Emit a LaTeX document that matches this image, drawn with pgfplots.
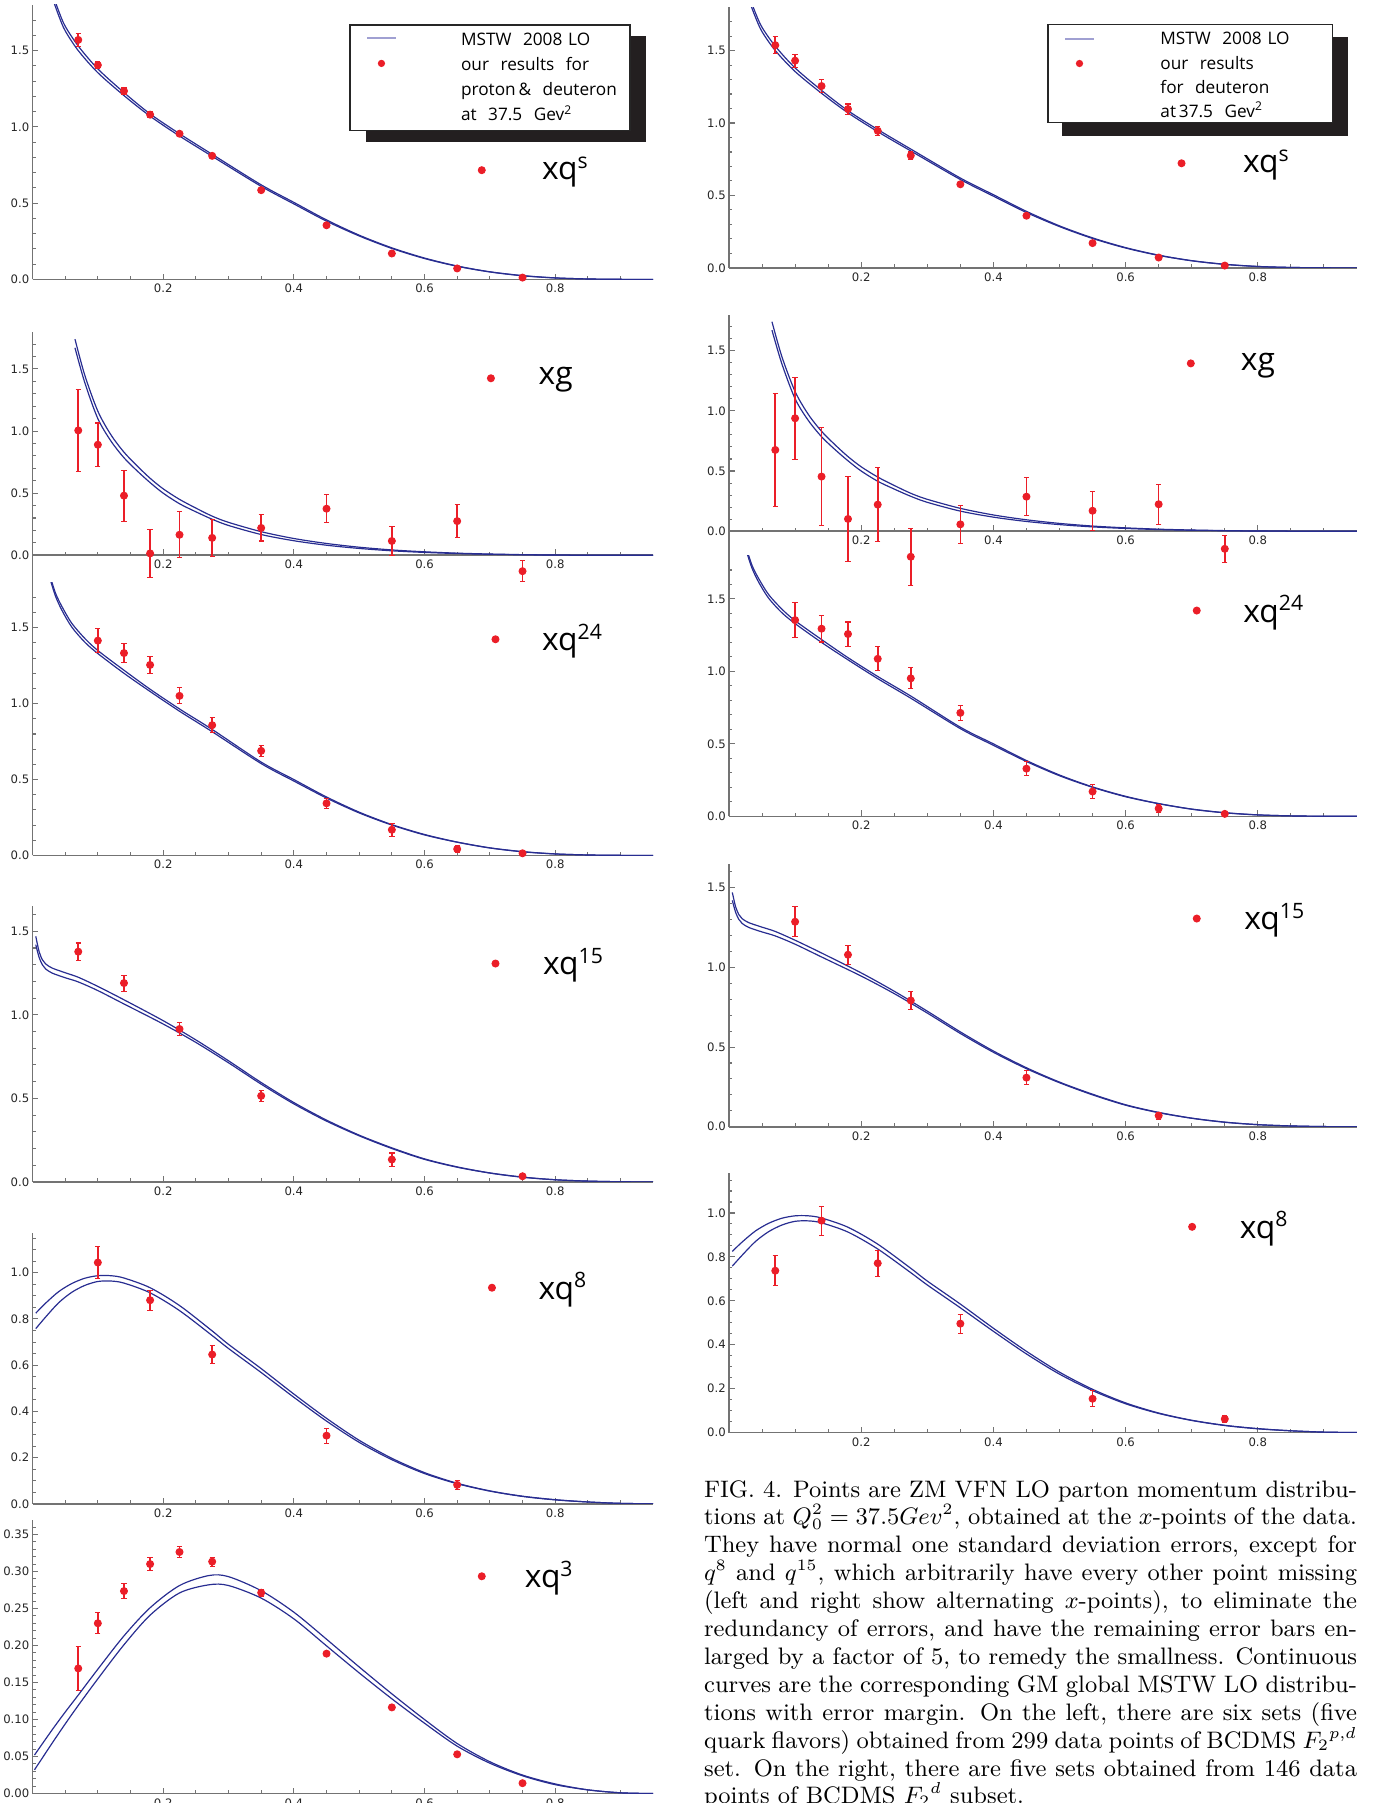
\documentclass[border=0pt]{standalone}
\usepackage{pgfplots}
\pgfplotsset{compat=1.18}
\usepackage{pgfplotstable}
\usepackage{fontspec}
\newfontfamily\pfont{Open Sans}
\newfontfamily\tfont{DejaVu Sans}
\newcommand\tickf{\tfont\fontsize{4.4}{5}\selectfont}
\newcommand\labf{\pfont\fontsize{12}{14}\selectfont}
\newcommand\legf{\pfont\fontsize{6.5}{7.5}\selectfont}
\definecolor{cb}{RGB}{40,45,145}
\definecolor{cr}{RGB}{235,30,40}
\definecolor{cl}{RGB}{160,160,210}
\definecolor{csh}{RGB}{35,31,32}

% ---------- MSTW curves: x, upper, lower ----------
\pgfplotstableread{
x u l
0.03 1.88 1.85
0.04 1.76 1.73
0.05 1.66 1.63
0.07 1.53 1.50
0.10 1.38 1.355
0.14 1.225 1.205
0.18 1.085 1.07
0.225 0.955 0.94
0.275 0.82 0.807
0.35 0.62 0.61
0.40 0.505 0.495
0.45 0.39 0.382
0.50 0.29 0.285
0.55 0.207 0.203
0.60 0.14 0.137
0.65 0.088 0.086
0.70 0.05 0.049
0.75 0.025 0.024
0.80 0.01 0.0095
0.85 0.003 0.003
0.90 0.0005 0.0005
0.95 0 0
}\Ts
\pgfplotstableread{
x u l
0.065 1.74 1.67
0.08 1.45 1.39
0.10 1.16 1.10
0.12 0.97 0.92
0.14 0.83 0.785
0.16 0.72 0.68
0.18 0.62 0.585
0.20 0.535 0.50
0.225 0.45 0.415
0.25 0.38 0.35
0.275 0.315 0.29
0.30 0.265 0.24
0.35 0.19 0.167
0.40 0.135 0.117
0.45 0.095 0.081
0.50 0.065 0.055
0.55 0.043 0.036
0.60 0.028 0.023
0.65 0.017 0.014
0.70 0.01 0.008
0.75 0.005 0.004
0.80 0.002 0.0015
0.85 0.001 0.0005
0.90 0 0
0.95 0 0
}\Tg
\pgfplotstableread{
x u l
0.027 1.84 1.82
0.035 1.73 1.71
0.045 1.64 1.615
0.06 1.53 1.505
0.08 1.43 1.405
0.10 1.35 1.33
0.14 1.22 1.20
0.18 1.095 1.08
0.225 0.965 0.95
0.275 0.83 0.815
0.35 0.615 0.605
0.40 0.5 0.49
0.45 0.385 0.378
0.50 0.285 0.28
0.55 0.203 0.2
0.60 0.138 0.135
0.65 0.088 0.087
0.70 0.05 0.049
0.75 0.025 0.024
0.80 0.01 0.0095
0.85 0.003 0.003
0.90 0.0005 0.0005
0.95 0 0
}\Tt
\pgfplotstableread{
x u l
0.005 1.47 1.42
0.01 1.38 1.345
0.015 1.33 1.30
0.02 1.305 1.275
0.03 1.28 1.25
0.05 1.252 1.222
0.07 1.225 1.197
0.10 1.17 1.145
0.14 1.09 1.065
0.20 0.965 0.945
0.25 0.85 0.835
0.30 0.725 0.713
0.35 0.595 0.585
0.40 0.475 0.467
0.45 0.37 0.364
0.50 0.28 0.276
0.55 0.204 0.2
0.60 0.138 0.135
0.65 0.09 0.088
0.70 0.054 0.053
0.75 0.029 0.028
0.80 0.013 0.013
0.85 0.005 0.005
0.90 0.001 0.001
0.95 0 0
}\Tf
\pgfplotstableread{
x u l
0.005 0.825 0.758
0.02 0.868 0.808
0.04 0.918 0.870
0.06 0.953 0.915
0.08 0.976 0.945
0.10 0.987 0.962
0.12 0.987 0.964
0.14 0.977 0.955
0.18 0.935 0.913
0.225 0.858 0.836
0.275 0.748 0.728
0.30 0.69 0.672
0.35 0.585 0.568
0.40 0.475 0.461
0.45 0.37 0.358
0.50 0.275 0.266
0.55 0.197 0.191
0.60 0.135 0.131
0.65 0.089 0.087
0.70 0.056 0.055
0.75 0.033 0.032
0.80 0.018 0.017
0.85 0.008 0.008
0.90 0.002 0.002
0.95 0 0
}\Te
\pgfplotstableread{
x u l
0.003 0.052 0.032
0.03 0.086 0.068
0.05 0.11 0.094
0.07 0.133 0.119
0.10 0.168 0.155
0.14 0.213 0.201
0.18 0.251 0.241
0.225 0.281 0.271
0.27 0.2945 0.282
0.30 0.293 0.281
0.35 0.274 0.264
0.40 0.245 0.236
0.45 0.2085 0.1995
0.50 0.171 0.163
0.55 0.1347 0.128
0.60 0.1 0.095
0.65 0.0676 0.064
0.70 0.043 0.041
0.75 0.025 0.024
0.80 0.013 0.012
0.85 0.005 0.005
0.90 0.001 0.001
0.95 0 0
}\Tc

% ---------- our results: x, value, error ----------
\pgfplotstableread{
x y e
0.07 1.57 0.045
0.10 1.405 0.025
0.14 1.235 0.022
0.18 1.08 0.018
0.225 0.955 0.015
0.275 0.81 0.012
0.35 0.585 0.008
0.45 0.355 0.007
0.55 0.17 0.005
0.65 0.072 0.005
0.75 0.012 0.004
}\DLs
\pgfplotstableread{
x y e
0.07 1.537 0.06
0.10 1.43 0.045
0.14 1.255 0.042
0.18 1.096 0.035
0.225 0.946 0.03
0.275 0.775 0.025
0.35 0.577 0.015
0.45 0.36 0.008
0.55 0.171 0.006
0.65 0.0715 0.006
0.75 0.016 0.006
}\DRs
\pgfplotstableread{
x y e
0.07 1.005 0.33
0.10 0.89 0.175
0.14 0.48 0.205
0.18 0.015 0.195
0.225 0.165 0.185
0.275 0.14 0.147
0.35 0.22 0.105
0.45 0.375 0.114
0.55 0.115 0.12
0.65 0.275 0.134
0.75 -0.128 0.085
}\DLg
\pgfplotstableread{
x y e
0.07 0.675 0.47
0.10 0.938 0.34
0.14 0.454 0.41
0.18 0.102 0.355
0.225 0.221 0.31
0.275 -0.212 0.235
0.35 0.057 0.157
0.45 0.287 0.158
0.55 0.17 0.163
0.65 0.224 0.168
0.75 -0.146 0.11
}\DRg
\pgfplotstableread{
x y e
0.10 1.415 0.08
0.14 1.333 0.065
0.18 1.255 0.058
0.225 1.051 0.053
0.275 0.858 0.05
0.35 0.689 0.035
0.45 0.343 0.033
0.55 0.169 0.044
0.65 0.042 0.022
0.75 0.014 0.008
}\DLt
\pgfplotstableread{
x y e
0.10 1.354 0.119
0.14 1.295 0.092
0.18 1.258 0.083
0.225 1.087 0.082
0.275 0.952 0.072
0.35 0.714 0.053
0.45 0.329 0.05
0.55 0.171 0.048
0.65 0.054 0.025
0.75 0.017 0.008
}\DRt
\pgfplotstableread{
x y e
0.07 1.378 0.052
0.14 1.19 0.048
0.225 0.915 0.04
0.35 0.515 0.033
0.55 0.134 0.039
0.75 0.034 0.008
}\DLf
\pgfplotstableread{
x y e
0.10 1.286 0.095
0.18 1.079 0.06
0.275 0.792 0.055
0.45 0.308 0.045
0.65 0.07 0.022
}\DRf
\pgfplotstableread{
x y e
0.10 1.044 0.068
0.18 0.881 0.043
0.275 0.646 0.038
0.45 0.295 0.032
0.65 0.082 0.02
}\DLe
\pgfplotstableread{
x y e
0.07 0.737 0.068
0.14 0.965 0.066
0.225 0.771 0.059
0.35 0.496 0.043
0.55 0.154 0.037
0.75 0.062 0.016
}\DRe
\pgfplotstableread{
x y e
0.07 0.169 0.03
0.10 0.23 0.014
0.14 0.2735 0.0105
0.18 0.31 0.0085
0.225 0.3263 0.007
0.275 0.3133 0.006
0.35 0.2713 0.0045
0.45 0.189 0.003
0.55 0.1164 0.0025
0.65 0.053 0.002
0.75 0.014 0.002
}\DLc

\pgfplotsset{
  pnl/.style={scale only axis, anchor=south west, xmin=0, xmax=0.95,
    axis y line=left, axis x line=bottom,
    axis line style={black!55, line width=0.6pt, -},
    tick align=inside, major tick length=2.2pt, minor tick length=1.3pt,
    tick style={black!55, line width=0.4pt},
    xtick={0.2,0.4,0.6,0.8},
    minor xtick={0.05,0.1,0.15,0.25,0.3,0.35,0.45,0.5,0.55,0.65,0.7,0.75,0.85,0.9},
    tick label style={font=\tickf, text=black!85},
    x tick label style={yshift=1.7pt},
    y tick label style={xshift=2.3pt},
    /pgf/number format/assume math mode=true,
    xticklabel style={/pgf/number format/.cd, fixed, fixed zerofill, precision=1},
    yticklabel style={/pgf/number format/.cd, fixed, fixed zerofill, precision=1},
    hide obscured x ticks=false, hide obscured y ticks=false,
    legend image code/.code={\fill[cr] (0pt,0pt) circle (1.3pt);},
  },
  yA/.style={ytick={0,0.5,1,1.5},
    minor ytick={0.1,0.2,0.3,0.4,0.6,0.7,0.8,0.9,1.1,1.2,1.3,1.4,1.6,1.7}},
  yE/.style={ytick={0,0.2,0.4,0.6,0.8,1.0},
    minor ytick={0.05,0.1,0.15,0.25,0.3,0.35,0.45,0.5,0.55,0.65,0.7,0.75,0.85,0.9,0.95,1.05,1.1,1.15}},
  crv/.style={cb, line width=0.45pt, smooth, no markers, forget plot},
  dat/.style={only marks, mark=*, mark size=1.3pt, cr,
    error bars/.cd, y dir=both, y explicit,
    error bar style={cr, line width=0.6pt},
    error mark options={rotate=90, cr, mark size=1pt, line width=0.4pt}},
  lab/.style n args={3}{legend style={at={(axis cs:#1,#2)}, anchor=west, xshift=-1.3pt,
    draw=none, fill=none, inner sep=0pt, font=\labf, nodes={inner sep=0pt},
    /tikz/every odd column/.append style={column sep=#3}}},
  lglineL/.style={cl, line width=0.7pt,
    legend image code/.code={\path (0pt,0pt); \draw[##1] (5.1pt,0.6pt) -- (16pt,0.6pt);}},
  lgdotL/.style={cr,
    legend image code/.code={\path (0pt,0pt) (16pt,0pt); \fill[cr] (10.5pt,0.6pt) circle (1.1pt);}},
  lglineR/.style={cl, line width=0.7pt,
    legend image code/.code={\path (0pt,0pt); \draw[##1] (5.1pt,-0.7pt) -- (16pt,-0.7pt);}},
  lgdotR/.style={cr,
    legend image code/.code={\path (0pt,0pt) (16pt,0pt); \fill[cr] (10.5pt,-0.7pt) circle (1.1pt);}},
  lgnone/.style={legend image code/.code={\path (0pt,0pt) (16pt,0pt);}},
  hid/.style={anchor=south west, scale only axis, xmin=0, xmax=0.95, ymin=0, ymax=1.8, hide axis},
  boxL/.style={legend style={at={(axis cs:0.485,1.673)}, anchor=north west, line width=0.5pt,
    font=\legf, inner xsep=1pt, inner ysep=3.4pt,
    nodes={inner sep=0pt, text width=62.8pt, align=left, text height=4.3pt, text depth=0.2pt},
    row sep=5.0pt, /tikz/every odd column/.append style={column sep=24.2pt}}},
  boxR/.style={legend style={at={(axis cs:0.4817,1.683)}, anchor=north west, line width=0.5pt,
    font=\legf, inner xsep=1pt, inner ysep=2.05pt,
    nodes={inner sep=0pt, text width=64pt, align=left, text height=5.6pt, text depth=0pt},
    row sep=3.5pt, /tikz/every odd column/.append style={column sep=24.7pt}}},
}

\begin{document}
\begin{tikzpicture}[x=0.3774pt, y=0.3774pt]

% ================= LEFT COLUMN =================
\begin{axis}[pnl, yA, at={(12.27pt,-105.45pt)}, width=234.25pt, height=103.63pt,
  ymin=0, ymax=1.8, lab={0.686}{0.716}{21.3pt}]
\addplot[crv] table[x=x,y=u]{\Ts};
\addplot[crv] table[x=x,y=l]{\Ts};
\addplot[dat] table[x=x,y=y,y error=e]{\DLs};
\addlegendentry{xq\textsuperscript{s}}
\end{axis}
% legend shadow
\begin{axis}[hid, at={(12.27pt,-105.45pt)}, width=234.25pt, height=103.63pt, boxL,
  legend style={xshift=6.1pt, yshift=-4.3pt, draw=csh, fill=csh, text=csh}]
\addlegendimage{lgnone}\addlegendentry{MSTW\ \ 2008 LO}
\addlegendimage{lgnone}\addlegendentry{our\ \ results\ \ for}
\addlegendimage{empty legend}\addlegendentry{proton\,\&\ \ deuteron}
\addlegendimage{empty legend}\addlegendentry{at\ \ 37.5\ \ Gev\textsuperscript{2}}
\end{axis}
% legend box
\begin{axis}[hid, at={(12.27pt,-105.45pt)}, width=234.25pt, height=103.63pt, boxL,
  legend style={draw=black!85, fill=white}]
\addlegendimage{lglineL}\addlegendentry{MSTW\ \ 2008 LO}
\addlegendimage{lgdotL}\addlegendentry{our\ \ results\ \ for}
\addlegendimage{empty legend}\addlegendentry{proton\,\&\ \ deuteron}
\addlegendimage{empty legend}\addlegendentry{at\ \ 37.5\ \ Gev\textsuperscript{2}}
\end{axis}

\begin{axis}[pnl, yA, at={(12.27pt,-219.87pt)}, width=234.25pt, height=94.69pt,
  ymin=-0.22, ymax=1.8, axis x line=middle, axis line style={black!55, line width=0.6pt, -},
  tick align=inside, lab={0.70}{1.425}{16.5pt}]
\addplot[crv] table[x=x,y=u]{\Tg};
\addplot[crv] table[x=x,y=l]{\Tg};
\addplot[dat] table[x=x,y=y,y error=e]{\DLg};
\addlegendentry{xg}
\end{axis}

\begin{axis}[pnl, yA, at={(12.27pt,-322.83pt)}, width=234.25pt, height=103.11pt,
  ymin=0, ymax=1.8, lab={0.707}{1.424}{16.1pt}]
\addplot[crv] table[x=x,y=u]{\Tt};
\addplot[crv] table[x=x,y=l]{\Tt};
\addplot[dat] table[x=x,y=y,y error=e]{\DLt};
\addlegendentry{xq\textsuperscript{24}}
\end{axis}

\begin{axis}[pnl, yA, at={(12.27pt,-446.05pt)}, width=234.25pt, height=104.05pt,
  ymin=0, ymax=1.65, lab={0.707}{1.307}{16.5pt}]
\addplot[crv] table[x=x,y=u]{\Tf};
\addplot[crv] table[x=x,y=l]{\Tf};
\addplot[dat] table[x=x,y=y,y error=e]{\DLf};
\addlegendentry{xq\textsuperscript{15}}
\end{axis}

\begin{axis}[pnl, yE, at={(12.27pt,-567.53pt)}, width=234.25pt, height=102.05pt,
  ymin=0, ymax=1.17, lab={0.7016}{0.935}{16.1pt}]
\addplot[crv] table[x=x,y=u]{\Te};
\addplot[crv] table[x=x,y=l]{\Te};
\addplot[dat] table[x=x,y=y,y error=e]{\DLe};
\addlegendentry{xq\textsuperscript{8}}
\end{axis}

\begin{axis}[pnl, at={(12.27pt,-676.87pt)}, width=234.25pt, height=103.37pt,
  ymin=0, ymax=0.37,
  ytick={0,0.05,0.1,0.15,0.2,0.25,0.3,0.35},
  minor ytick={0.01,0.02,0.03,0.04,0.06,0.07,0.08,0.09,0.11,0.12,0.13,0.14,0.16,0.17,0.18,0.19,0.21,0.22,0.23,0.24,0.26,0.27,0.28,0.29,0.31,0.32,0.33,0.34,0.36},
  yticklabel style={/pgf/number format/.cd, fixed, fixed zerofill, precision=2},
  lab={0.686}{0.2935}{14.8pt}]
\addplot[crv] table[x=x,y=u]{\Tc};
\addplot[crv] table[x=x,y=l]{\Tc};
\addplot[dat] table[x=x,y=y,y error=e]{\DLc};
\addlegendentry{xq\textsuperscript{3}}
\end{axis}

% ================= RIGHT COLUMN =================
\begin{axis}[pnl, yA, at={(275.12pt,-101.10pt)}, width=237.0pt, height=98.43pt,
  ymin=0, ymax=1.8, lab={0.683}{0.722}{21.7pt}]
\addplot[crv] table[x=x,y=u]{\Ts};
\addplot[crv] table[x=x,y=l]{\Ts};
\addplot[dat] table[x=x,y=y,y error=e]{\DRs};
\addlegendentry{xq\textsuperscript{s}}
\end{axis}
\begin{axis}[hid, at={(275.12pt,-101.10pt)}, width=237.0pt, height=98.43pt, boxR,
  legend style={xshift=5.6pt, yshift=-4.8pt, draw=csh, fill=csh, text=csh}]
\addlegendimage{lgnone}\addlegendentry{MSTW\ \ 2008 LO}
\addlegendimage{lgnone}\addlegendentry{our\ \ results}
\addlegendimage{empty legend}\addlegendentry{for\ \ deuteron}
\addlegendimage{empty legend}\addlegendentry{at\,37.5\ \ Gev\textsuperscript{2}}
\end{axis}
\begin{axis}[hid, at={(275.12pt,-101.10pt)}, width=237.0pt, height=98.43pt, boxR,
  legend style={draw=black!85, fill=white}]
\addlegendimage{lglineR}\addlegendentry{MSTW\ \ 2008 LO}
\addlegendimage{lgdotR}\addlegendentry{our\ \ results}
\addlegendimage{empty legend}\addlegendentry{for\ \ deuteron}
\addlegendimage{empty legend}\addlegendentry{at\,37.5\ \ Gev\textsuperscript{2}}
\end{axis}

\begin{axis}[pnl, yA, at={(275.12pt,-220.93pt)}, width=237.0pt, height=102.24pt,
  ymin=-0.45, ymax=1.8, axis x line=middle, axis line style={black!55, line width=0.6pt, -},
  tick align=inside, lab={0.697}{1.394}{17.4pt}]
\addplot[crv] table[x=x,y=u]{\Tg};
\addplot[crv] table[x=x,y=l]{\Tg};
\addplot[dat] table[x=x,y=y,y error=e]{\DRg};
\addlegendentry{xg}
\end{axis}

\begin{axis}[pnl, yA, at={(275.12pt,-308.07pt)}, width=237.0pt, height=98.43pt,
  ymin=0, ymax=1.8, lab={0.706}{1.42}{16.1pt}]
\addplot[crv] table[x=x,y=u]{\Tt};
\addplot[crv] table[x=x,y=l]{\Tt};
\addplot[dat] table[x=x,y=y,y error=e]{\DRt};
\addlegendentry{xq\textsuperscript{24}}
\end{axis}

\begin{axis}[pnl, yA, at={(275.12pt,-425.22pt)}, width=237.0pt, height=99.26pt,
  ymin=0, ymax=1.65, lab={0.706}{1.306}{16.5pt}]
\addplot[crv] table[x=x,y=u]{\Tf};
\addplot[crv] table[x=x,y=l]{\Tf};
\addplot[dat] table[x=x,y=y,y error=e]{\DRf};
\addlegendentry{xq\textsuperscript{15}}
\end{axis}

\begin{axis}[pnl, yE, at={(275.12pt,-540.63pt)}, width=237.0pt, height=97.78pt,
  ymin=0, ymax=1.18, lab={0.699}{0.937}{16.5pt}]
\addplot[crv] table[x=x,y=u]{\Te};
\addplot[crv] table[x=x,y=l]{\Te};
\addplot[dat] table[x=x,y=y,y error=e]{\DRe};
\addlegendentry{xq\textsuperscript{8}}
\end{axis}

% ================= CAPTION =================
\node[anchor=base west, inner sep=0pt] at (703.6,-1497) {\parbox[t]{246.4pt}{\fontsize{9}{10.53}\selectfont
\makebox[\linewidth][s]{FIG. 4. Points are ZM VFN LO parton momentum distribu-}\\
\makebox[\linewidth][s]{tions at $Q_0^2=37.5Gev^2$, obtained at the $x$-points of the data.}\\
\makebox[\linewidth][s]{They have normal one standard deviation errors, except for}\\
\makebox[\linewidth][s]{$q^8$ and $q^{15}$, which arbitrarily have every other point missing}\\
\makebox[\linewidth][s]{(left and right show alternating $x$-points), to eliminate the}\\
\makebox[\linewidth][s]{redundancy of errors, and have the remaining error bars en-}\\
\makebox[\linewidth][s]{larged by a factor of 5, to remedy the smallness. Continuous}\\
\makebox[\linewidth][s]{curves are the corresponding GM global MSTW LO distribu-}\\
\makebox[\linewidth][s]{tions with error margin. On the left, there are six sets (five}\\
\makebox[\linewidth][s]{quark flavors) obtained from 299 data points of BCDMS ${F_2}^{p,d}$}\\
\makebox[\linewidth][s]{set. On the right, there are five sets obtained from 146 data}\\
points of BCDMS ${F_2}^d$ subset.}};

\pgfresetboundingbox
\useasboundingbox (0,0) rectangle (1375,-1803);
\end{tikzpicture}
\end{document}
